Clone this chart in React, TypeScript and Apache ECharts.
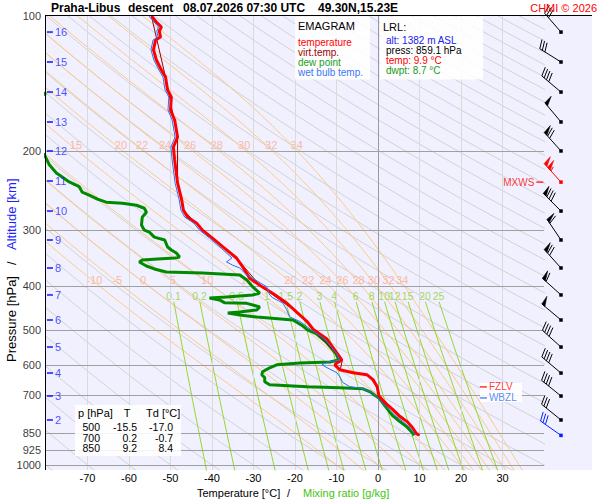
import { useEffect, useRef } from "react";
import * as echarts from "echarts";

const FONT = "'Liberation Sans', Arial, Helvetica, sans-serif";

// ---------- sounding profiles: [pressure hPa, value °C] ----------
const TEMP = [
  [100.0, -54.6], [103.1, -53.4], [105.8, -52.2], [108.0, -52.7], [111.4, -52.4], [113.1, -53.6],
  [119.0, -54.1], [125.3, -53.4], [131.9, -52.2], [136.8, -51.2], [146.2, -50.7], [151.5, -49.8],
  [162.0, -50.0], [170.5, -49.0], [186.0, -48.3], [195.8, -49.3], [209.2, -49.0], [223.6, -48.6],
  [235.3, -48.3], [256.8, -47.3], [270.3, -46.9], [280.3, -45.9], [289.3, -43.7], [299.9, -42.3],
  [312.4, -39.9], [328.7, -37.0], [345.9, -34.1], [362.2, -32.6], [383.6, -30.9], [397.8, -28.5],
  [414.4, -25.4], [435.7, -22.0], [456.7, -19.6], [479.1, -17.1], [500.0, -15.5], [524.1, -12.3],
  [574.9, -9.2], [583.8, -8.7], [592.5, -9.9], [598.4, -10.4], [613.6, -9.2], [622.9, -6.0],
  [629.3, -2.7], [645.5, -1.2], [669.1, -0.2], [700.0, 0.2], [715.2, 1.0], [733.8, 2.2],
  [752.8, 3.6], [780.2, 5.3], [800.5, 7.0], [825.3, 8.3], [850.0, 9.2], [859.1, 9.9],
];

const DEWP = [
  [100, -90.0], [140, -88.0], [146, -84.0], [149, -80.0], [153, -84.0], [180, -88.0], [196, -84.0],
  [203.6, -80.4], [214.5, -79.2], [223.6, -77.5], [228.3, -76.1], [234.2, -74.4], [240.0, -72.0],
  [246.7, -71.3], [250.6, -69.6], [255.8, -67.6], [259.8, -65.5], [261.2, -61.6], [263.9, -58.2],
  [268.0, -56.3], [273.5, -55.8], [280.5, -56.8], [292.2, -57.0], [299.9, -56.3], [303.0, -55.1],
  [310.8, -53.9], [315.5, -51.4], [327.0, -50.7], [332.0, -49.8], [337.2, -48.6], [344.2, -47.8],
  [346.0, -49.0], [347.8, -53.1], [349.5, -56.8], [353.2, -57.5], [360.4, -55.8], [365.9, -53.9],
  [371.6, -51.0], [373.5, -42.3], [377.4, -33.3], [387.2, -31.6], [401.2, -30.2], [414.1, -28.5],
  [418.1, -30.2], [422.4, -36.5], [424.5, -40.6], [428.9, -38.2], [435.0, -37.0], [436.5, -31.6],
  [444.7, -28.5], [451.6, -29.2], [456.3, -33.3], [458.7, -36.2], [463.4, -33.3], [468.2, -29.2],
  [475.5, -20.5], [488.2, -18.4], [500.0, -17.0], [509.7, -14.9], [532.3, -12.5], [565.6, -10.1],
  [583.8, -9.4], [589.6, -11.6], [592.5, -18.8], [598.4, -24.4], [607.4, -26.1], [619.8, -27.8],
  [629.3, -28.0], [639.0, -27.3], [652.3, -27.3], [662.5, -26.1], [669.5, -17.1], [672.9, -9.2],
  [676.4, -3.6], [687.0, -1.9], [700.0, -0.7], [708.8, 0.2], [745.0, 2.0], [777.6, 3.6],
  [798.5, 5.1], [819.5, 6.8], [850.0, 8.4], [859.1, 8.7],
];

const WETBULB = [
  [100.0, -55.2], [105.8, -52.9], [108.0, -53.3], [111.4, -53.0], [113.1, -54.2], [119.0, -54.7],
  [125.3, -54.0], [131.9, -52.8], [136.8, -51.8], [146.2, -51.3], [151.5, -50.4], [162.0, -50.6],
  [170.5, -49.6], [186.0, -48.9], [195.8, -49.9], [209.2, -49.6], [223.6, -49.2], [235.3, -48.9],
  [256.8, -47.9], [270.3, -47.5], [280.3, -46.6], [289.3, -44.4], [299.9, -43.0], [312.4, -40.6],
  [328.7, -37.8], [345.9, -35.2], [353.0, -36.5], [359.0, -35.0], [364.0, -33.3], [378.0, -31.6],
  [384.0, -30.2], [401.0, -26.8], [418.0, -26.1], [424.0, -25.4], [436.0, -22.9], [451.0, -22.0],
  [468.0, -21.3], [479.0, -18.8], [500.0, -16.1], [524.0, -12.8], [566.0, -9.9], [584.0, -9.2],
  [590.0, -12.1], [598.0, -13.5], [607.0, -12.3], [623.0, -9.9], [636.0, -9.2], [655.0, -8.5],
  [669.0, -6.8], [676.0, -3.6], [690.0, -1.4], [705.0, -0.3], [745.0, 2.1], [780.0, 4.4],
  [800.0, 6.0], [825.0, 7.6], [850.0, 8.7], [859.1, 9.2],
];

const VIRT = [
  [100.0, -54.6], [136.8, -51.2], [186.0, -48.3], [235.3, -48.3], [270.3, -46.9], [299.9, -42.3],
  [345.9, -34.1], [397.8, -28.5], [456.7, -19.6], [500.0, -15.5], [583.8, -8.6], [613.6, -9.1],
  [629.3, -2.6], [669.1, -0.1], [700.0, 0.3], [752.8, 3.7], [800.5, 7.2], [850.0, 9.4], [859.1, 10.1],
];

// ---------- axes / reference values ----------
const P_LEVELS = [100, 200, 300, 400, 500, 600, 700, 850, 925, 1000];
const T_TICKS = [-70, -60, -50, -40, -30, -20, -10, 0, 10, 20, 30];
const ALT_KM = [16, 15, 14, 13, 12, 11, 10, 9, 8, 7, 6, 5, 4, 3, 2];
const ALT_P = [108.6, 126.6, 147.7, 172.2, 199.8, 233.1, 271.9, 315.4, 364.1, 418.1, 475.4, 546.1, 624.0, 702.1, 793.8];

// dry adiabats (potential temperature, °C), pseudo-adiabats (θw, °C), mixing ratios (g/kg)
const DRY_THETA = [-80, -70, -60, -50, -40, -30, -20, -10, 0, 10, 20, 30, 40, 50, 60, 70, 80, 90, 100, 110, 120, 130, 140, 150, 160, 170, 180, 190, 200, 210, 220, 230, 240, 250, 260, 270, 280, 290, 300, 310, 320, 330];
const THETA_W = [-10, -5, 0, 5, 10, 15, 20, 22, 24, 26, 28, 30, 32, 34];
const THETA_W_LABEL_TOP = [15, 20, 22, 24, 26, 28, 30, 32, 34];
const MIX_W = [0.1, 0.2, 0.5, 1, 1.5, 2, 3, 4, 6, 8, 10, 12, 15, 20, 25];

// ---------- winds ----------
const WIND_P = [108.6, 126.6, 147.7, 172.2, 199.8, 271.9, 315.4, 364.1, 418.1, 475.4, 546.1, 624.0, 702.1, 793.8];
const WIND_DIR = [319, 302, 310, 320, 318, 315, 326, 318, 312, 310, 312, 310, 309, 309];
const WIND_SPD = [30, 30, 40, 50, 70, 80, 60, 70, 60, 50, 40, 40, 40, 30];
const MXWS_P = 234.4, MXWS_DIR = 318, MXWS_SPD = 105;
const SFC_P = 859.1, SFC_DIR = 305, SFC_SPD = 30;
const FZLV_P = 670, WBZL_P = 709;

// ---------- table ----------
const TABLE_P = [500, 700, 850];
const TABLE_T = [-15.5, 0.2, 9.2];
const TABLE_TD = [-17.0, -0.7, 8.4];

// ---------- thermodynamics for the diagram's background lines ----------
const RD = 287.04, CPD = 1005.7, LV = 2.501e6, EPS = 0.622;
const esat = (tc: number) => 6.112 * Math.exp((17.67 * tc) / (tc + 243.5));
function lapse(tk: number, p: number) {
  const e = esat(tk - 273.15);
  const r = (EPS * e) / Math.max(p - e, 1e-6);
  return (RD * tk + LV * r) / (CPD + (LV * LV * r * EPS) / (RD * tk * tk));
}
function integrate(tk0: number, lp0: number, lpEnd: number, h: number) {
  const out: number[][] = [];
  let tk = tk0, lp = lp0;
  while ((h < 0 && lp > lpEnd) || (h > 0 && lp < lpEnd)) {
    const k1 = lapse(tk, Math.exp(lp));
    const k2 = lapse(tk + (h / 2) * k1, Math.exp(lp + h / 2));
    const k3 = lapse(tk + (h / 2) * k2, Math.exp(lp + h / 2));
    const k4 = lapse(tk + h * k3, Math.exp(lp + h));
    tk += (h / 6) * (k1 + 2 * k2 + 2 * k3 + k4);
    lp += h;
    out.push([tk - 273.15, Math.exp(lp)]);
  }
  return out;
}
function moistCurve(tw: number) {
  const up = integrate(tw + 273.15, Math.log(1000), Math.log(100), -0.02);
  const down = integrate(tw + 273.15, Math.log(1000), Math.log(1030), 0.02);
  return down.reverse().concat([[tw, 1000]], up);
}
function tAt(curve: number[][], p: number) {
  for (let i = 1; i < curve.length; i++) {
    const a = curve[i - 1], b = curve[i];
    if ((a[1] - p) * (b[1] - p) <= 0) {
      const f = (Math.log(p) - Math.log(a[1])) / (Math.log(b[1]) - Math.log(a[1]) || 1);
      return a[0] + f * (b[0] - a[0]);
    }
  }
  return NaN;
}
function dryCurve(thC: number) {
  const pts: number[][] = [];
  for (let i = 0; i <= 30; i++) {
    const p = 100 * Math.pow(10.3, i / 30);
    pts.push([(thC + 273.15) * Math.pow(p / 1000, 0.2857) - 273.15, p]);
  }
  return pts;
}
function mixT(w: number, p: number) {
  const r = w / 1000;
  const e = (r * p) / (EPS + r);
  const l = Math.log(e / 6.112);
  return (243.5 * l) / (17.67 - l);
}
function mixCurve(w: number) {
  const pts: number[][] = [];
  for (let i = 0; i <= 12; i++) {
    const p = 433 * Math.pow(1030 / 433, i / 12);
    pts.push([mixT(w, p), p]);
  }
  return pts;
}

const toXY = (arr: number[][]) => arr.map((d) => [d[1], d[0]]);

function buildOption() {
  const thin = { type: "line", xAxisIndex: 0, yAxisIndex: 0, showSymbol: false, symbol: "none", silent: true, clip: true };
  const series: any[] = [];

  DRY_THETA.forEach((th) =>
    series.push({ ...thin, z: 1, data: dryCurve(th), lineStyle: { color: "#d2d2d2", width: 1 } })
  );
  const moist = THETA_W.map((tw) => moistCurve(tw));
  moist.forEach((c) => series.push({ ...thin, z: 1, data: c, lineStyle: { color: "#ffc983", width: 1 } }));
  MIX_W.forEach((w) => series.push({ ...thin, z: 1, data: mixCurve(w), lineStyle: { color: "#94d82a", width: 1 } }));

  // grid lines
  series.push({
    ...thin,
    z: 2,
    data: [],
    markLine: {
      silent: true,
      symbol: ["none", "none"],
      label: { show: false },
      animation: false,
      data: [
        ...T_TICKS.map((t) => ({ xAxis: t, lineStyle: { color: t === 0 ? "#9a9a9a" : "#dadada", width: 1, type: "solid" } })),
        ...P_LEVELS.filter((p) => p > 100).map((p) => ({ yAxis: p, lineStyle: { color: "#a0a0a0", width: 1, type: "solid" } })),
      ],
    },
  });

  // θw labels
  const lblTop = THETA_W_LABEL_TOP.map((tw) => ({ name: String(tw), value: [tAt(moist[THETA_W.indexOf(tw)], 194), 194] }));
  const lblMid = THETA_W.map((tw, i) => ({ name: String(tw), value: [tAt(moist[i], 388), 388] }));
  series.push({
    type: "scatter", xAxisIndex: 0, yAxisIndex: 0, z: 2, silent: true, symbolSize: 0, clip: false,
    data: lblTop,
    label: { show: true, position: "inside", offset: [5, 0], formatter: "{b}", color: "#ffa98c", fontSize: 11, fontFamily: FONT },
  });
  series.push({
    type: "scatter", xAxisIndex: 0, yAxisIndex: 0, z: 2, silent: true, symbolSize: 0, clip: false,
    data: lblMid,
    label: { show: true, position: "inside", offset: [2, 0], formatter: "{b}", color: "#ffa98c", fontSize: 11, fontFamily: FONT },
  });
  series.push({
    type: "scatter", xAxisIndex: 0, yAxisIndex: 0, z: 2, silent: true, symbolSize: 0, clip: false,
    data: MIX_W.map((w) => ({ name: String(w), value: [mixT(w, 430), 421] })),
    label: { show: true, position: "inside", formatter: "{b}", color: "#94d02c", fontSize: 10.5, fontFamily: FONT },
  });

  // profiles
  series.push({ ...thin, z: 5, data: toXY(DEWP), lineStyle: { color: "#008a00", width: 3 } });
  series.push({ ...thin, z: 6, data: toXY(VIRT), lineStyle: { color: "#a00000", width: 1 } });
  series.push({ ...thin, z: 7, data: toXY(TEMP), lineStyle: { color: "#ff0000", width: 3 } });
  series.push({ ...thin, z: 8, data: toXY(WETBULB), lineStyle: { color: "#2f6ff0", width: 1 } });

  // pressure labels
  series.push({
    type: "scatter", xAxisIndex: 0, yAxisIndex: 0, z: 10, silent: true, symbolSize: 0, clip: false,
    data: P_LEVELS.map((p) => ({ name: String(p), value: [-80, p] })),
    label: { show: true, position: "left", distance: 5, formatter: "{b}", color: "#000", fontSize: 11, fontFamily: FONT, lineHeight: 11 },
  });
  // altitude ticks
  series.push({
    type: "scatter", xAxisIndex: 0, yAxisIndex: 0, z: 10, silent: true, symbol: "rect", symbolSize: [6, 2], clip: false,
    itemStyle: { color: "#1f1fff" },
    data: ALT_KM.map((k, i) => ({ name: String(k), value: [-79.05, ALT_P[i]] })),
    label: { show: true, position: "right", distance: 2, formatter: "{b}", color: "#1f1fff", fontSize: 11, fontFamily: FONT, lineHeight: 11 },
  });
  // level markers
  series.push({
    type: "scatter", xAxisIndex: 0, yAxisIndex: 0, z: 120, silent: true, symbol: "rect", symbolSize: [7, 1.5], clip: false,
    data: [
      { name: "MXWS", value: [39.0, MXWS_P], itemStyle: { color: "#ff0000" }, label: { position: "left", color: "#ff0000" } },
      { name: "FZLV", value: [25.4, FZLV_P], itemStyle: { color: "#ff0000" }, label: { position: "right", color: "#ff0000" } },
      { name: "WBZL", value: [25.4, WBZL_P], itemStyle: { color: "#2f6ff0" }, label: { position: "right", color: "#2f6ff0" } },
    ],
    label: { show: true, distance: 2, formatter: "{b}", fontSize: 10, fontFamily: FONT, lineHeight: 10 },
  });

  // wind barbs
  const windData: number[][] = WIND_P.map((p, i) => [0.354, p, WIND_DIR[i], WIND_SPD[i], 0]);
  windData.push([0.354, MXWS_P, MXWS_DIR, MXWS_SPD, 1]);
  windData.push([0.354, SFC_P, SFC_DIR, SFC_SPD, 2]);
  series.push({
    type: "custom", xAxisIndex: 1, yAxisIndex: 1, z: 10, silent: true, clip: false,
    encode: { x: 0, y: 1 },
    data: windData,
    renderItem: (_params: any, api: any) => {
      const c = api.coord([api.value(0), api.value(1)]);
      const dir = api.value(2), spd = api.value(3), kind = api.value(4);
      const color = kind === 1 ? "#ff0000" : kind === 2 ? "#0022ff" : "#000000";
      const rad = (dir * Math.PI) / 180;
      const ux = Math.sin(rad), uy = -Math.cos(rad);
      const L = 25;
      const tx = c[0] + ux * L, ty = c[1] + uy * L;
      const fx = -uy, fy = ux;
      const FL = 9;
      const ch: any[] = [
        { type: "line", shape: { x1: c[0], y1: c[1], x2: tx, y2: ty }, style: { stroke: color, lineWidth: 1 } },
        { type: "rect", shape: { x: c[0] - 1.75, y: c[1] - 1.75, width: 3.5, height: 3.5 }, style: { fill: color } },
      ];
      let s = Math.round(spd / 5) * 5;
      let d = 0;
      while (s >= 50) {
        const bx = tx - ux * d, by = ty - uy * d;
        ch.push({
          type: "polygon",
          shape: { points: [[bx, by], [bx + fx * FL + ux * 1, by + fy * FL + uy * 1], [bx - ux * 4, by - uy * 4]] },
          style: { fill: color, stroke: color, lineWidth: 0.6 },
        });
        d += 5;
        s -= 50;
      }
      while (s >= 10) {
        const bx = tx - ux * d, by = ty - uy * d;
        ch.push({ type: "line", shape: { x1: bx, y1: by, x2: bx + fx * FL + ux * 3, y2: by + fy * FL + uy * 3 }, style: { stroke: color, lineWidth: 1 } });
        d += 3;
        s -= 10;
      }
      if (s >= 5) {
        const bx = tx - ux * d, by = ty - uy * d;
        ch.push({ type: "line", shape: { x1: bx, y1: by, x2: bx + fx * FL * 0.5 + ux * 1.5, y2: by + fy * FL * 0.5 + uy * 1.5 }, style: { stroke: color, lineWidth: 1 } });
      }
      return { type: "group", children: ch };
    },
  });

  const txt = (text: string, x: number, y: number, fill: string, size: number, extra: any = {}) => ({
    type: "text",
    x,
    y,
    z: 110,
    silent: true,
    style: { text, fill, fontSize: size, fontFamily: FONT, verticalAlign: "middle", textVerticalAlign: "middle", align: "left", textAlign: "left", ...extra },
  });
  const box = (x: number, y: number, w: number, h: number) => ({
    type: "rect", z: 100, silent: true, shape: { x, y, width: w, height: h }, style: { fill: "rgba(255,255,255,0.88)" },
  });
  const row = { lineHeight: 9 };
  const trow = { align: "right", textAlign: "right", lineHeight: 10 };

  const graphic: any[] = [
    { type: "line", z: 105, silent: true, shape: { x1: 45, y1: 15.5, x2: 592, y2: 15.5 }, style: { stroke: "#000", lineWidth: 1 } },
    { type: "line", z: 105, silent: true, shape: { x1: 45.5, y1: 15.5, x2: 45.5, y2: 470 }, style: { stroke: "#000", lineWidth: 1 } },
    txt("Praha-Libus", 51, 8, "#000", 12, { fontWeight: "bold" }),
    txt("descent", 128, 8, "#000", 12, { fontWeight: "bold" }),
    txt("08.07.2026 07:30 UTC", 183, 8, "#000", 12, { fontWeight: "bold" }),
    txt("49.30N,15.23E", 318, 8, "#000", 12, { fontWeight: "bold" }),
    txt("CHMI © 2026", 597, 8, "#ff0000", 11, { align: "right", textAlign: "right" }),
    box(295, 16.5, 75, 63),
    txt("EMAGRAM", 298, 26, "#000", 11),
    txt("temperature", 298, 42, "#ff0000", 10, row),
    txt("virt.temp.", 298, 52, "#a00000", 10, row),
    txt("dew point", 298, 62, "#1aa01a", 10, row),
    txt("wet bulb temp.", 298, 72, "#3a78f2", 10, row),
    box(380, 16.5, 103, 63),
    txt("LRL:", 383, 27, "#000", 11),
    txt("alt: 1382 m ASL", 386, 40, "#2020ee", 10, row),
    txt("press: 859.1 hPa", 386, 50, "#000", 10, row),
    txt("temp: 9.9 °C", 386, 60, "#ff0000", 10, row),
    txt("dwpt: 8.7 °C", 386, 70, "#1a991a", 10, row),
    box(480, 383, 42, 19),
    box(75, 405, 106, 51),
    txt("p [hPa]", 78, 413, "#000", 11),
    txt("T", 127, 413, "#000", 11, { align: "center", textAlign: "center" }),
    txt("Td [°C]", 146, 413, "#000", 11),
    ...TABLE_P.map((p, i) => txt(String(p), 100, 427 + i * 10.5, "#000", 10.5, trow)),
    ...TABLE_T.map((t, i) => txt(t.toFixed(1), 137, 427 + i * 10.5, "#000", 10.5, trow)),
    ...TABLE_TD.map((t, i) => txt(t.toFixed(1), 173, 427 + i * 10.5, "#000", 10.5, trow)),
    txt("Temperature [°C]", 197, 493, "#000", 11),
    txt("/", 287, 493, "#000", 11),
    txt("Mixing ratio [g/kg]", 303, 493, "#44c411", 11),
    { ...txt("Pressure [hPa]", 11, 362, "#000", 13), rotation: Math.PI / 2 },
    { ...txt("/", 11, 265, "#000", 13), rotation: Math.PI / 2 },
    { ...txt("Altitude [km]", 11, 250, "#1f1fff", 13), rotation: Math.PI / 2 },
  ];

  return {
    animation: false,
    backgroundColor: "#ffffff",
    textStyle: { fontFamily: FONT },
    grid: [
      { left: 46, top: 16, width: 498, height: 454, show: true, backgroundColor: "#f0f0ff", borderWidth: 0 },
      { left: 544, top: 16, width: 48, height: 454, show: true, backgroundColor: "#f0f0ff", borderWidth: 0 },
    ],
    xAxis: [
      {
        type: "value", gridIndex: 0, min: -80, max: 40, interval: 10,
        axisLine: { show: false }, axisTick: { show: false }, splitLine: { show: false },
        axisLabel: { margin: 2, color: "#000", fontSize: 11, fontFamily: FONT, formatter: (v: number) => (v <= -80 || v >= 40 ? "" : String(v)) },
      },
      { type: "value", gridIndex: 1, min: 0, max: 1, show: false },
    ],
    yAxis: [
      { type: "log", gridIndex: 0, logBase: 10, min: 100, max: 1026, inverse: true, show: false },
      { type: "log", gridIndex: 1, logBase: 10, min: 100, max: 1026, inverse: true, show: false },
    ],
    series,
    graphic,
  };
}

export default function App() {
  const ref = useRef<HTMLDivElement>(null);
  useEffect(() => {
    const chart = echarts.init(ref.current as HTMLDivElement, undefined, { renderer: "svg" });
    chart.setOption(buildOption() as any);
    return () => chart.dispose();
  }, []);
  return <div ref={ref} style={{ position: "absolute", left: 0, top: 0, width: 600, height: 500 }} />;
}
